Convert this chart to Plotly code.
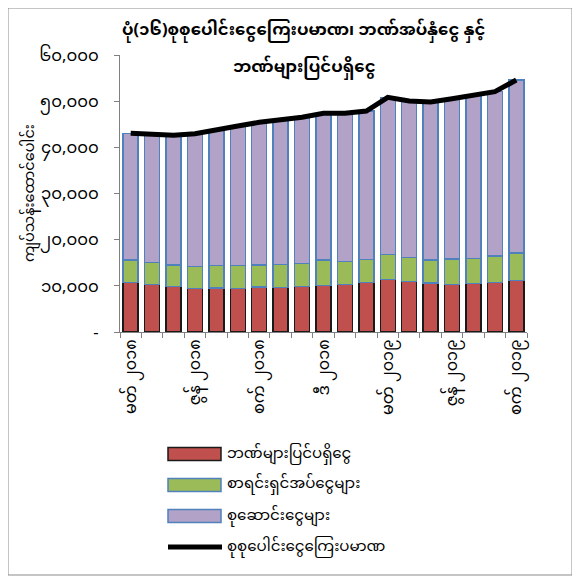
import plotly.graph_objects as go

months = ["မတ် ၂၀၁၈", "ဧပြီ ၂၀၁၈", "မေ ၂၀၁၈", "ဇွန် ၂၀၁၈", "ဇူ ၂၀၁၈", "ဩ ၂၀၁၈",
          "စက် ၂၀၁၈", "အောက် ၂၀၁၈", "နို ၂၀၁၈", "ဒီ ၂၀၁၈", "ဇန် ၂၀၁၉", "ဖေ ၂၀၁၉",
          "မတ် ၂၀၁၉", "ဧပြီ ၂၀၁၉", "မေ ၂၀၁၉", "ဇွန် ၂၀၁၉", "ဇူ ၂၀၁၉", "ဩ ၂၀၁၉", "စက် ၂၀၁၉"]
tick_labels = [m if i % 3 == 0 else "" for i, m in enumerate(months)]

currency_outside = [10680, 10250, 9820, 9460, 9530, 9460, 9750, 9600, 9820, 10110,
                    10330, 10680, 11330, 10970, 10610, 10330, 10540, 10680, 11190]
demand_deposits = [4910, 4840, 4690, 4690, 4840, 4910, 4760, 4980, 5050, 5480,
                   4900, 5060, 5420, 5130, 4980, 5480, 5410, 5780, 5920]
savings_deposits = [27450, 27730, 28090, 28810, 29310, 30250, 30910, 31340, 31630, 31780,
                    32140, 32130, 34090, 33930, 34230, 34720, 35380, 35590, 37470]
total_money = [43040, 42820, 42600, 42960, 43680, 44620, 45420, 45920, 46500, 47370,
               47370, 47870, 50840, 50030, 49820, 50530, 51330, 52050, 54580]

y_ticks = [0, 10000, 20000, 30000, 40000, 50000, 60000]
y_tick_text = ["-", "၁၀,၀၀၀", "၂၀,၀၀၀", "၃၀,၀၀၀", "၄၀,၀၀၀", "၅၀,၀၀၀", "၆၀,၀၀၀"]

names = ["ဘဏ်များပြင်ပရှိငွေ", "စာရင်းရှင်အပ်ငွေများ", "စုဆောင်းငွေများ", "စုစုပေါင်းငွေကြေးပမာဏ"]
colors = ["#c0504d", "#9bbb59", "#b3a2c7"]
edges = ["#1a1a1a", "#4f81bd", "#4f81bd"]
title1 = "ပုံ(၁၆)စုစုပေါင်းငွေကြေးပမာဏ၊ ဘဏ်အပ်နှံငွေ နှင့်"
title2 = "ဘဏ်များပြင်ပရှိငွေ"
y_title = "ကျပ်သန်းထောင်ပေါင်း"

FONT = "Noto Sans Myanmar, Padauk, Myanmar Text, Noto Sans, DejaVu Sans, sans-serif"

# page offset (browser body margin) compensation
OFF = 8
W, H = 572, 574
L, R, T, B = 120, 527, 55, 332  # target plot area in reference pixels
pw, ph = R - L, B - T


def px(x):
    return (x - L) / pw


def py(y):
    return (B - y) / ph


fig = go.Figure()
for vals, nm, c, e in zip([currency_outside, demand_deposits, savings_deposits], names[:3], colors, edges):
    fig.add_trace(go.Bar(x=months, y=vals, name=nm, showlegend=False,
                         marker=dict(color=c, line=dict(color=e, width=1.5))))
fig.add_trace(go.Scatter(x=months, y=total_money, name=names[3], mode="lines", showlegend=False,
                         line=dict(color="black", width=5)))

annotations = [
    dict(text="<b>" + title1 + "</b>", x=px(304), y=py(31), xref="paper", yref="paper",
         showarrow=False, font=dict(size=16.5), xanchor="center", yanchor="middle"),
    dict(text="<b>" + title2 + "</b>", x=px(304), y=py(68), xref="paper", yref="paper",
         showarrow=False, font=dict(size=16.5), xanchor="center", yanchor="middle"),
    dict(text=y_title, x=px(30), y=py(193), xref="paper", yref="paper", textangle=-90,
         showarrow=False, font=dict(size=14.5), xanchor="center", yanchor="middle"),
]
shapes = [
    dict(type="rect", xref="paper", yref="paper", x0=px(8), x1=px(572), y0=py(575), y1=py(8),
         line=dict(color="#8c8c8c", width=1), fillcolor="rgba(0,0,0,0)", layer="below"),
]

# legend (drawn as shapes + text to mimic wide Excel legend keys)
leg_y = [454, 485, 516, 547]
for i in range(3):
    shapes.append(dict(type="rect", xref="paper", yref="paper",
                       x0=px(168), x1=px(221), y0=py(leg_y[i] + 6.5), y1=py(leg_y[i] - 6.5),
                       fillcolor=colors[i], line=dict(color=edges[i], width=1.5)))
shapes.append(dict(type="line", xref="paper", yref="paper", x0=px(168), x1=px(222),
                   y0=py(leg_y[3]), y1=py(leg_y[3]), line=dict(color="black", width=5)))
for i in range(4):
    annotations.append(dict(text=names[i], x=px(225), y=py(leg_y[i]), xref="paper", yref="paper",
                            showarrow=False, font=dict(size=15), xanchor="left", yanchor="middle"))

fig.update_layout(
    width=W, height=H,
    margin=dict(l=L - OFF, r=W - (R - OFF), t=T - OFF, b=H - (B - OFF)),
    barmode="stack", bargap=0.3,
    plot_bgcolor="white", paper_bgcolor="white",
    font=dict(family=FONT, color="black", size=14),
    showlegend=False,
    xaxis=dict(type="category", tickmode="array", tickvals=months, ticktext=tick_labels,
               tickangle=-90, ticks="outside", tickson="boundaries", ticklen=5,
               tickcolor="#808080", showline=True, linecolor="#808080", linewidth=1,
               showgrid=False, tickfont=dict(size=16), range=[-0.5, 18.5], automargin=False),
    yaxis=dict(range=[0, 60000], tickmode="array", tickvals=y_ticks, ticktext=y_tick_text,
               ticks="outside", ticklen=5, tickcolor="#808080", showline=True,
               linecolor="#808080", linewidth=1, showgrid=False, zeroline=False,
               tickfont=dict(size=16.5), ticklabelstandoff=12, automargin=False),
    annotations=annotations,
    shapes=shapes,
)

fig.write_html("out.html")
